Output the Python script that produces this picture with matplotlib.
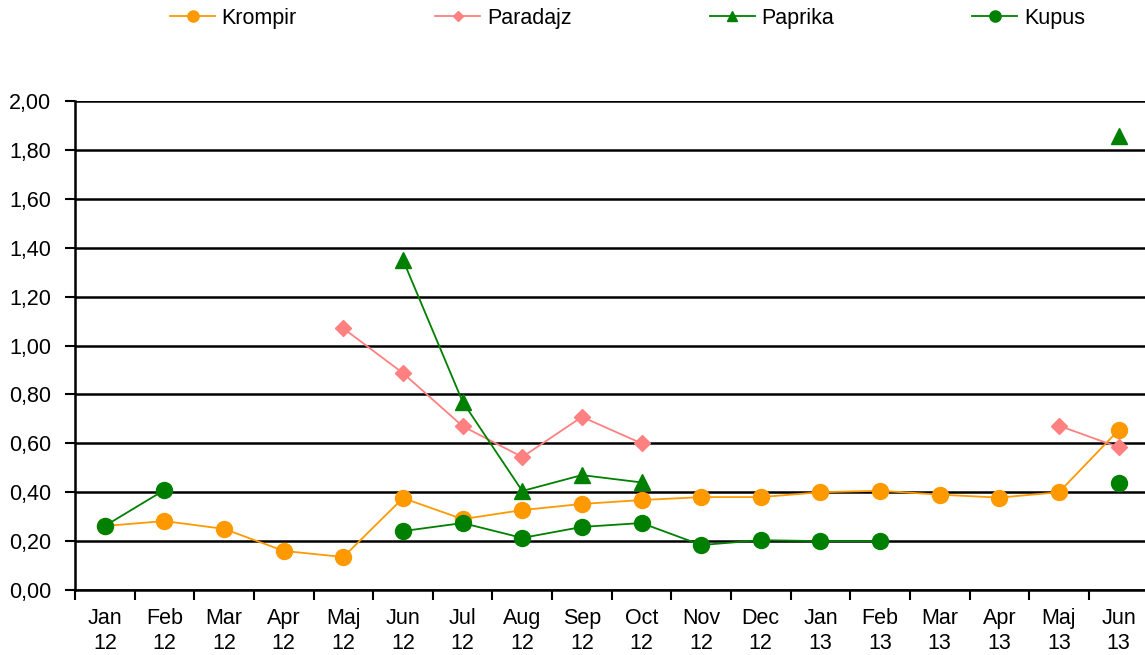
import matplotlib
import numpy as np

matplotlib.use('Agg')
import matplotlib.pyplot as plt
from matplotlib.ticker import FixedLocator, FuncFormatter

plt.rcParams['font.family'] = ['Liberation Sans', 'DejaVu Sans']

months = ['Jan', 'Feb', 'Mar', 'Apr', 'Maj', 'Jun', 'Jul', 'Aug', 'Sep', 'Oct', 'Nov', 'Dec',
          'Jan', 'Feb', 'Mar', 'Apr', 'Maj', 'Jun']
years = ['12'] * 12 + ['13'] * 6
labels = ['%s\n%s' % (m, y) for m, y in zip(months, years)]

nan = np.nan
krompir = [0.262, 0.282, 0.25, 0.16, 0.135, 0.376, 0.29, 0.327, 0.352, 0.368, 0.38, 0.38,
           0.40, 0.406, 0.39, 0.378, 0.40, 0.654]
paradajz = [nan, nan, nan, nan, 1.07, 0.887, 0.67, 0.544, 0.708, 0.60, nan, nan,
            nan, nan, nan, nan, 0.672, 0.584]
paprika = [nan, nan, nan, nan, nan, 1.35, 0.77, 0.405, 0.47, 0.44, nan, nan,
           nan, nan, nan, nan, nan, 1.857]
kupus = [0.262, 0.409, nan, nan, nan, 0.241, 0.274, 0.213, 0.258, 0.274, 0.184, 0.204,
         0.20, 0.20, nan, nan, nan, 0.437]

ORANGE = '#FF9900'
PINK = '#FF8080'
GREEN = '#008000'
FS = 15.5

fig = plt.figure(figsize=(11.45, 6.55), dpi=100)
ax = fig.add_axes([0.0655, 0.0992, 0.9375, 0.7466])

x = np.arange(len(labels))
ax.plot(x, krompir, '-', color=ORANGE, lw=1.3, marker='o', ms=11.5, mec=ORANGE, mfc=ORANGE,
        label='Krompir', zorder=3)
ax.plot(x, paradajz, '-', color=PINK, lw=1.3, marker='D', ms=8, mec=PINK, mfc=PINK,
        label='Paradajz', zorder=3)
ax.plot(x, paprika, '-', color=GREEN, lw=1.3, marker='^', ms=11, mec=GREEN, mfc=GREEN,
        label='Paprika', zorder=4)
ax.plot(x, kupus, '-', color=GREEN, lw=1.3, marker='o', ms=11.5, mec=GREEN, mfc=GREEN,
        label='Kupus', zorder=4)

ax.set_xlim(-0.5, len(labels) - 0.5)
ax.set_ylim(0, 2.0)
ax.set_yticks(np.arange(0, 2.01, 0.2))
ax.yaxis.set_major_formatter(FuncFormatter(lambda v, p: ('%.2f' % v).replace('.', ',')))
ax.grid(True, axis='y', color='black', lw=1.8)
ax.set_axisbelow(True)

ax.set_xticks(x)
ax.set_xticklabels(labels, fontsize=FS, linespacing=1.22)
ax.xaxis.set_minor_locator(FixedLocator(np.arange(-0.5, len(labels), 1.0)))
ax.tick_params(axis='x', which='major', length=0, pad=13)
ax.tick_params(axis='x', which='minor', length=7, width=1.5, direction='out', color='black')
ax.tick_params(axis='y', length=7, width=1.5, direction='out', labelsize=FS, pad=10)

for side in ['top', 'right']:
    ax.spines[side].set_visible(False)
ax.spines['left'].set_linewidth(1.8)
ax.spines['bottom'].set_linewidth(1.8)

handles, lbls = ax.get_legend_handles_labels()
leg = fig.legend(handles, lbls, loc='center', bbox_to_anchor=(0.548, 0.9725), ncol=4,
                 frameon=False, fontsize=FS, columnspacing=6.42, handlelength=2.1,
                 handletextpad=0.3, markerscale=0.7)

plt.savefig('out.png', dpi=100)
